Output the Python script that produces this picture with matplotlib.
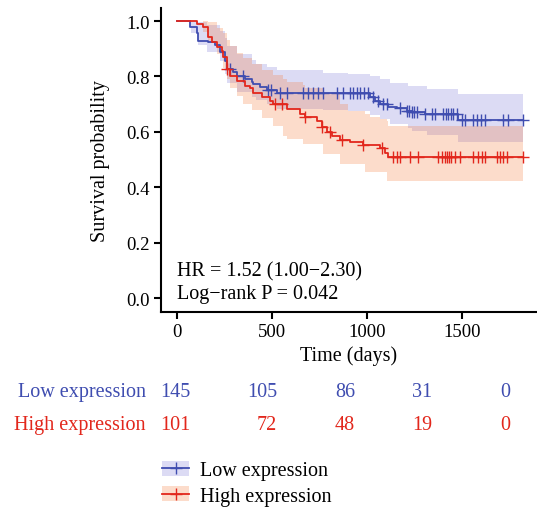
import numpy as np
import matplotlib
matplotlib.use("Agg")
import matplotlib.pyplot as plt
from matplotlib.patches import Patch
from matplotlib.lines import Line2D
from matplotlib.legend_handler import HandlerTuple

plt.rcParams['font.family'] = ['Liberation Serif', 'DejaVu Serif']

# ---------------- data ----------------
groups = ["Low expression", "High expression"]
t_end = 1823

low_t = [0, 68, 104, 112, 165, 200, 226, 253, 261, 295, 314, 358, 393, 402, 437, 472, 525,
         1016, 1042, 1068, 1112, 1156, 1209, 1235, 1305, 1481]
low_s = [1.0, 0.978, 0.955, 0.929, 0.923, 0.914, 0.887, 0.857, 0.827, 0.815, 0.803, 0.791, 0.779,
         0.773, 0.761, 0.751, 0.739, 0.725, 0.712, 0.700, 0.691, 0.686, 0.676, 0.670, 0.664, 0.643]
low_censor = [279, 349, 481, 493, 542, 577, 665, 691, 718, 744, 770, 840, 875, 911, 928, 946, 963,
              984, 1007, 1033, 1060, 1086, 1104, 1174, 1209, 1223, 1235, 1247, 1261, 1305, 1340,
              1358, 1402, 1416, 1428, 1440, 1454, 1472, 1498, 1516, 1560, 1577, 1598, 1621, 1718,
              1744, 1823]
low_band_t = [0, 72, 110, 156, 226, 253, 261, 314, 393, 416, 472, 525, 770, 900, 1016, 1068,
              1121, 1216, 1235, 1314, 1481]
low_hi = [1.0, 1.0, 0.995, 0.985, 0.965, 0.94, 0.91, 0.88, 0.86, 0.845, 0.835, 0.823, 0.812,
          0.809, 0.800, 0.79, 0.778, 0.764, 0.764, 0.754, 0.738]
low_lo = [1.0, 0.955, 0.915, 0.89, 0.855, 0.81, 0.775, 0.745, 0.725, 0.715, 0.70, 0.682, 0.68,
          0.676, 0.66, 0.645, 0.63, 0.615, 0.604, 0.588, 0.562]

high_t = [0, 104, 139, 165, 182, 209, 235, 244, 261, 279, 314, 358, 384, 402, 446, 489, 507, 577,
          647, 674, 735, 761, 788, 814, 858, 911, 981, 1068, 1095, 1112]
high_s = [1.0, 0.989, 0.977, 0.941, 0.923, 0.905, 0.893, 0.869, 0.827, 0.803, 0.785, 0.767, 0.76,
          0.742, 0.725, 0.712, 0.700, 0.682, 0.664, 0.652, 0.640, 0.616, 0.598, 0.586, 0.571,
          0.562, 0.552, 0.540, 0.525, 0.510]
high_censor = [261, 516, 551, 674, 761, 805, 867, 981, 1077, 1139, 1156, 1174, 1226, 1270, 1375,
               1393, 1410, 1421, 1433, 1444, 1463, 1489, 1560, 1586, 1603, 1621, 1683, 1700, 1718,
               1735, 1823]
high_band_t = [0, 139, 165, 209, 244, 261, 279, 314, 350, 393, 446, 507, 560, 577, 665, 674, 770,
               858, 900, 989, 1016, 1068, 1104, 1112]
high_hi = [1.0, 1.0, 0.995, 0.975, 0.955, 0.93, 0.91, 0.885, 0.865, 0.845, 0.825, 0.805, 0.79,
           0.78, 0.77, 0.76, 0.74, 0.70, 0.676, 0.665, 0.655, 0.645, 0.64, 0.622]
high_lo = [1.0, 0.96, 0.92, 0.88, 0.83, 0.79, 0.76, 0.73, 0.70, 0.68, 0.65, 0.62, 0.585, 0.575,
           0.556, 0.556, 0.52, 0.484, 0.484, 0.455, 0.455, 0.455, 0.421, 0.421]

risk_low = [145, 105, 86, 31, 0]
risk_high = [101, 72, 48, 19, 0]

hr_text = "HR = 1.52 (1.00\u22122.30)"
p_text = "Log\u2212rank P = 0.042"

line_colors = ["#3f4db0", "#e2271c"]
fill_colors = ["#7773d7", "#f77733"]
fill_alpha = 0.25

# ---------------- figure ----------------
W, H = 537, 510
fig = plt.figure(figsize=(W / 100, H / 100), dpi=100)
ax = fig.add_axes([161 / W, 1 - 313 / H, 376 / W, 304 / H])

fs_tick = 13.5
fs = 14.5

def step_ext(t, v):
    return np.array(list(t) + [t_end]), np.array(list(v) + [v[-1]])

def surv_at(t, s, x):
    idx = np.searchsorted(np.array(t), np.array(x), side='right') - 1
    return np.array(s)[idx]

series = [
    (low_t, low_s, low_censor, low_band_t, low_lo, low_hi),
    (high_t, high_s, high_censor, high_band_t, high_lo, high_hi),
]

for i, (t, s, cen, bt, blo, bhi) in enumerate(series):
    bx, lo = step_ext(bt, blo)
    _, hi = step_ext(bt, bhi)
    ax.fill_between(bx, lo, hi, step='post', color=fill_colors[i], alpha=fill_alpha,
                    linewidth=0, zorder=1 + i)

for i, (t, s, cen, bt, blo, bhi) in enumerate(series):
    x, y = step_ext(t, s)
    ax.plot(x, y, drawstyle='steps-post', color=line_colors[i], lw=1.3, zorder=5 + i)
    ax.plot(cen, surv_at(t, s, cen), linestyle='none', marker='+', markersize=9,
            mew=1.0, color=line_colors[i], zorder=5 + i)

ax.set_xlim(-84, 1895)
ax.set_ylim(-0.05, 1.047)
ax.set_xticks([0, 500, 1000, 1500])
ax.set_yticks([0.0, 0.2, 0.4, 0.6, 0.8, 1.0])
ax.set_yticklabels(["0.0", "0.2", "0.4", "0.6", "0.8", "1.0"])
for sp in ['top', 'right']:
    ax.spines[sp].set_visible(False)
for sp in ['left', 'bottom']:
    ax.spines[sp].set_linewidth(1.5)
ax.tick_params(axis='both', direction='out', length=5, width=1.5, labelsize=fs_tick, pad=3)
ax.set_xlabel("Time (days)", fontsize=fs, labelpad=4)
ax.set_ylabel("Survival probability", fontsize=fs, labelpad=12)

ax.text(0, 0.0805, hr_text, fontsize=fs, ha='left', va='baseline')
ax.text(0, -0.001, p_text, fontsize=fs, ha='left', va='baseline')

# risk table
col_right_px = [190, 277, 355, 432, 510]
row_base_px = [397, 430]
for r, (name, vals) in enumerate(zip(groups, [risk_low, risk_high])):
    yf = 1 - row_base_px[r] / H
    fig.text(146 / W, yf, name, fontsize=fs, color=line_colors[r], ha='right', va='baseline')
    for xp, v in zip(col_right_px, vals):
        fig.text(xp / W, yf, str(v), fontsize=fs, color=line_colors[r], ha='right', va='baseline')

# legend
handles = []
for i in range(2):
    p = Patch(facecolor=fill_colors[i], alpha=fill_alpha, edgecolor='none')
    l = Line2D([], [], color=line_colors[i], lw=1.3, marker='+', markersize=9, mew=1.0)
    handles.append((p, l))
fig.legend(handles, groups, handler_map={tuple: HandlerTuple(ndivide=1, pad=0)},
           loc='upper left', bbox_to_anchor=(162 / W, 1 - 462 / H), frameon=False,
           fontsize=fs, handlelength=1.35, handleheight=0.75, handletextpad=0.55,
           labelspacing=0.3, borderaxespad=0, borderpad=0)

fig.savefig("out.png", dpi=100)
